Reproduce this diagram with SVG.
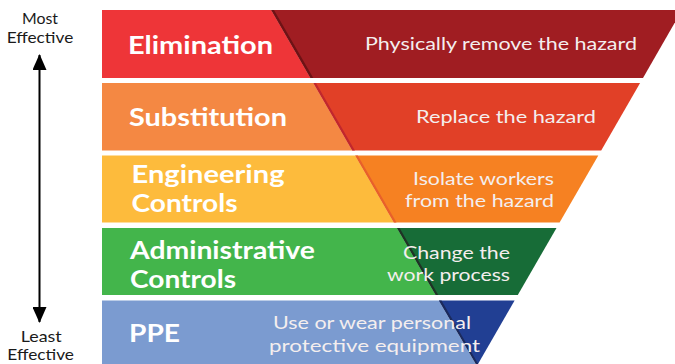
<svg xmlns="http://www.w3.org/2000/svg" width="675" height="364" viewBox="0 0 675 364">
  <defs>
    <style>
      .lbl { font-family: Lato, "Open Sans", "Liberation Sans", sans-serif; font-weight: 700; font-size: 24px; fill: #ffffff; }
      .desc { font-family: Lato, "Open Sans", "Liberation Sans", sans-serif; font-weight: 400; font-size: 18px; fill: #f4eeee; }
      .side { font-family: Lato, "Open Sans", "Liberation Sans", sans-serif; font-weight: 400; font-size: 15px; fill: #1a1a1a; }
    </style>
    <marker id="ah" viewBox="0 0 16 14" refX="15" refY="7" markerWidth="16" markerHeight="14" markerUnits="userSpaceOnUse" orient="auto-start-reverse">
      <path d="M0,0 L16,7 L0,14 Z" fill="#000"/>
    </marker>
  </defs>
  <rect width="675" height="364" fill="#ffffff"/>

  <g id="elimination">
    <polygon points="102,10 271.2,10 310.5,78 102,78" fill="#EE3538"/>
    <polygon points="271.2,10 682,10 643,78 310.5,78" fill="#A01D22"/>
    <polygon points="271.2,10 274,10 313.3,78 310.5,78" fill="#6E1215"/>
  </g>
  <g id="substitution">
    <polygon points="102,83 313.4,83 352.3,150.5 102,150.5" fill="#F48843"/>
    <polygon points="313.4,83 640.1,83 601.2,150.5 352.3,150.5" fill="#E14027"/>
    <polygon points="313.4,83 316,83 354.9,150.5 352.3,150.5" fill="#C1272D"/>
  </g>
  <g id="engineering">
    <polygon points="102,155.5 355.2,155.5 393.9,222.5 102,222.5" fill="#FDBB3C"/>
    <polygon points="355.2,155.5 598.3,155.5 559.6,222.5 393.9,222.5" fill="#F68122"/>
    <polygon points="355.2,155.5 357.8,155.5 396.5,222.5 393.9,222.5" fill="#E8602A"/>
  </g>
  <g id="administrative">
    <polygon points="102,228 397,228 435.7,295 102,295" fill="#43B54B"/>
    <polygon points="397,228 556.5,228 517.8,295 435.7,295" fill="#176C37"/>
    <polygon points="397,228 399.6,228 438.3,295 435.7,295" fill="#1F3325"/>
  </g>
  <g id="ppe">
    <polygon points="102,300.5 438.9,300.5 478,368 102,368" fill="#7B9BD0"/>
    <polygon points="438.9,300.5 514.6,300.5 478,364 477,364" fill="#213F93"/>
    <polygon points="438.9,300.5 441.5,300.5 478.5,364.5 476,364.5" fill="#1B2A5C"/>
  </g>

  <g id="labels">
    <text class="lbl" x="128" y="53.5" textLength="145" lengthAdjust="spacingAndGlyphs">Elimination</text>
    <text class="lbl" x="129" y="126" textLength="158" lengthAdjust="spacingAndGlyphs">Substitution</text>
    <text class="lbl" x="131.5" y="183" textLength="153" lengthAdjust="spacingAndGlyphs">Engineering</text>
    <text class="lbl" x="131.5" y="212" textLength="106" lengthAdjust="spacingAndGlyphs">Controls</text>
    <text class="lbl" x="130" y="259" textLength="185" lengthAdjust="spacingAndGlyphs">Administrative</text>
    <text class="lbl" x="130" y="288" textLength="106" lengthAdjust="spacingAndGlyphs">Controls</text>
    <text class="lbl" x="129" y="342" textLength="51" lengthAdjust="spacingAndGlyphs">PPE</text>

    <text class="desc" x="365" y="49.5" textLength="272" lengthAdjust="spacingAndGlyphs">Physically remove the hazard</text>
    <text class="desc" x="416" y="123.3" textLength="180" lengthAdjust="spacingAndGlyphs">Replace the hazard</text>
    <text class="desc" x="413" y="184.8" textLength="141" lengthAdjust="spacingAndGlyphs">Isolate workers</text>
    <text class="desc" x="405" y="206.7" textLength="149" lengthAdjust="spacingAndGlyphs">from the hazard</text>
    <text class="desc" x="403" y="258.7" textLength="107" lengthAdjust="spacingAndGlyphs">Change the</text>
    <text class="desc" x="387" y="280.7" textLength="123" lengthAdjust="spacingAndGlyphs">work process</text>
    <text class="desc" x="273" y="329" textLength="198" lengthAdjust="spacingAndGlyphs">Use or wear personal</text>
    <text class="desc" x="269" y="351.7" textLength="211" lengthAdjust="spacingAndGlyphs">protective equipment</text>

    <text class="side" x="22" y="24" textLength="36" lengthAdjust="spacingAndGlyphs">Most</text>
    <text class="side" x="6.7" y="42.7" textLength="66.6" lengthAdjust="spacingAndGlyphs">Effective</text>
    <text class="side" x="20.7" y="341.5" textLength="41" lengthAdjust="spacingAndGlyphs">Least</text>
    <text class="side" x="7.3" y="359.5" textLength="66.7" lengthAdjust="spacingAndGlyphs">Effective</text>
  </g>

  <g id="connectors">
    <line x1="39.5" y1="55" x2="39.5" y2="322" stroke="#000" stroke-width="2" marker-start="url(#ah)" marker-end="url(#ah)"/>
  </g>
</svg>
